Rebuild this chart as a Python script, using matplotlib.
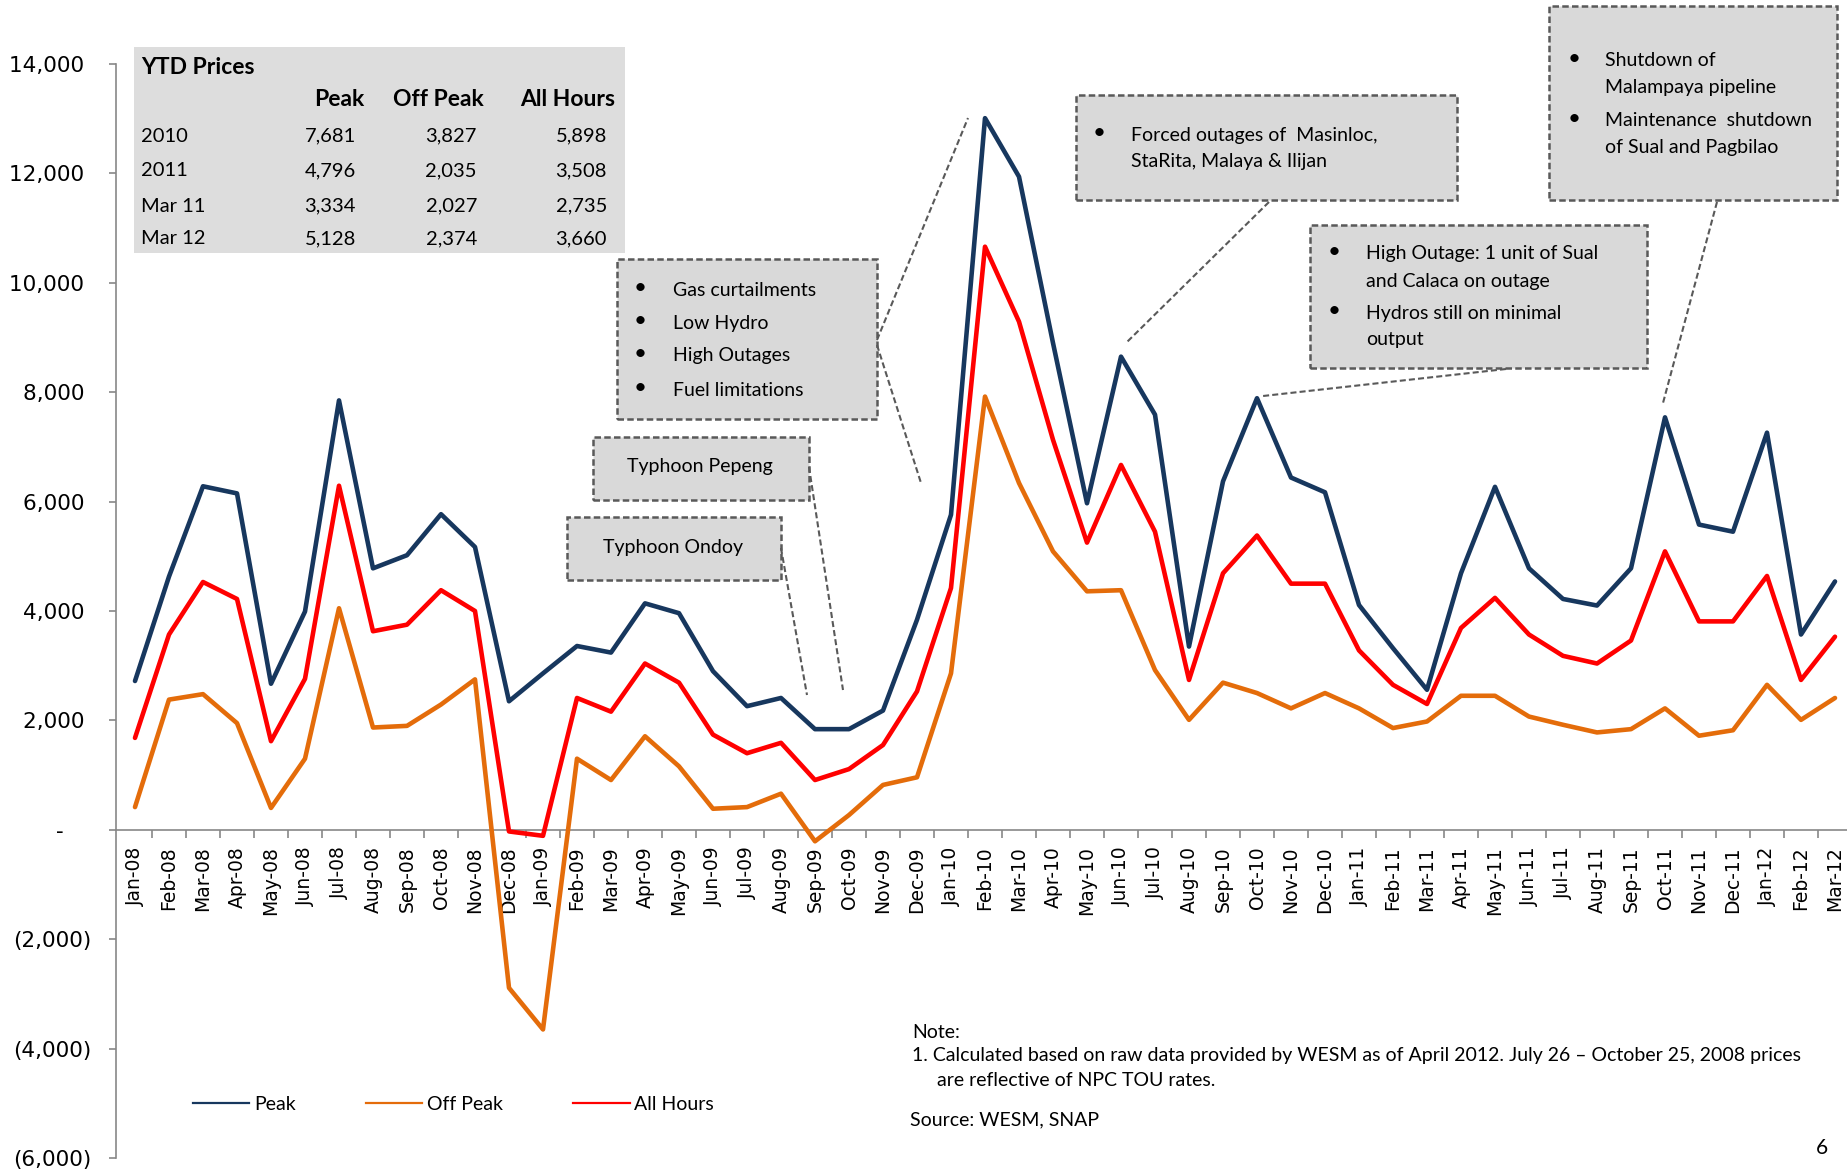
import matplotlib
matplotlib.use("Agg")
import matplotlib.pyplot as plt
from matplotlib.lines import Line2D
from matplotlib.patches import Rectangle
from matplotlib.ticker import FuncFormatter, FixedLocator

# ---------------- data ----------------
months = ['Jan-08', 'Feb-08', 'Mar-08', 'Apr-08', 'May-08', 'Jun-08', 'Jul-08', 'Aug-08',
          'Sep-08', 'Oct-08', 'Nov-08', 'Dec-08',
          'Jan-09', 'Feb-09', 'Mar-09', 'Apr-09', 'May-09', 'Jun-09', 'Jul-09', 'Aug-09',
          'Sep-09', 'Oct-09', 'Nov-09', 'Dec-09',
          'Jan-10', 'Feb-10', 'Mar-10', 'Apr-10', 'May-10', 'Jun-10', 'Jul-10', 'Aug-10',
          'Sep-10', 'Oct-10', 'Nov-10', 'Dec-10',
          'Jan-11', 'Feb-11', 'Mar-11', 'Apr-11', 'May-11', 'Jun-11', 'Jul-11', 'Aug-11',
          'Sep-11', 'Oct-11', 'Nov-11', 'Dec-11',
          'Jan-12', 'Feb-12', 'Mar-12']

peak = [2720, 4630, 6280, 6150, 2670, 3990, 7850, 4780, 5020, 5770, 5170, 2350,
        2860, 3360, 3240, 4140, 3960, 2900, 2260, 2410, 1840, 1840, 2180, 3840,
        5760, 13010, 11940, 8900, 5970, 8650, 7590, 3350, 6370, 7890, 6440, 6170,
        4110, 3320, 2560, 4690, 6270, 4780, 4220, 4100, 4780, 7540, 5580, 5450,
        7260, 3570, 4540]

off_peak = [415, 2380, 2480, 1950, 400, 1300, 4050, 1870, 1900, 2290, 2750, -2890,
            -3650, 1300, 910, 1710, 1160, 385, 415, 660, -210, 270, 820, 960,
            2860, 7920, 6340, 5090, 4360, 4380, 2920, 2010, 2690, 2500, 2220, 2500,
            2220, 1860, 1980, 2450, 2450, 2070, 1920, 1780, 1840, 2220, 1720, 1820,
            2650, 2010, 2410]

all_hours = [1680, 3570, 4530, 4220, 1620, 2760, 6290, 3630, 3750, 4380, 4000, -30,
             -110, 2410, 2160, 3040, 2690, 1740, 1400, 1590, 910, 1110, 1550, 2530,
             4420, 10660, 9290, 7130, 5250, 6670, 5450, 2740, 4690, 5380, 4500, 4500,
             3280, 2650, 2300, 3690, 4240, 3570, 3180, 3040, 3460, 5090, 3810, 3810,
             4640, 2740, 3530]

series_names = ['Peak', 'Off Peak', 'All Hours']
series_colors = ['#17375E', '#E46C0A', '#FF0000']

ytd_cols = ['Peak', 'Off Peak', 'All Hours']
ytd_rows = ['2010', '2011', 'Mar 11', 'Mar 12']
ytd_peak = ['7,681', '4,796', '3,334', '5,128']
ytd_off = ['3,827', '2,035', '2,027', '2,374']
ytd_all = ['5,898', '3,508', '2,735', '3,660']

y_ticks = [-6000, -4000, -2000, 0, 2000, 4000, 6000, 8000, 10000, 12000, 14000]

# ---------------- figure ----------------
W, H = 1847, 1171
fig = plt.figure(figsize=(W / 100, H / 100), dpi=100)
fig.patch.set_facecolor('white')

TXT = ['Lato', 'DejaVu Sans']
AX = ['DejaVu Sans']


def fx(x):
    return x / W


def fy(y):
    return 1 - y / H


def T(x, y, s, **kw):
    kw.setdefault('family', TXT)
    kw.setdefault('va', 'center')
    return fig.text(fx(x), fy(y), s, **kw)


# axes: x=-0.55 at px 116.3, 34 px per category; y 14000 at px 64, -6000 at px 1158
x0 = -0.55
x1 = 50.5
left = 135 + x0 * 34
width = (x1 - x0) * 34
ax = fig.add_axes([left / W, (H - 1158) / H, width / W, (1158 - 64) / H])
ax.set_xlim(x0, x1)
ax.set_ylim(-6000, 14000)
ax.set_facecolor('none')

xs = list(range(len(months)))
for vals, name, col in zip([peak, off_peak, all_hours], series_names, series_colors):
    ax.plot(xs, vals, color=col, lw=3.3, label=name, solid_joinstyle='round',
            solid_capstyle='round', zorder=3)

for sp in ['top', 'right']:
    ax.spines[sp].set_visible(False)
ax.spines['left'].set_color('#878787')
ax.spines['left'].set_linewidth(1.2)
ax.spines['bottom'].set_position(('data', 0))
ax.spines['bottom'].set_color('#878787')
ax.spines['bottom'].set_linewidth(1.2)

ax.yaxis.set_major_locator(FixedLocator(y_ticks))


def yfmt(v, pos):
    v = int(round(v))
    if v == 0:
        return '-    '
    if v < 0:
        return '({:,})'.format(-v)
    return '{:,} '.format(v)


ax.yaxis.set_major_formatter(FuncFormatter(yfmt))
ax.tick_params(axis='y', direction='out', length=5, width=1.2, color='#878787',
               pad=13, labelsize=15.5, labelcolor='#000000')
for lab in ax.get_yticklabels():
    lab.set_family(AX)

ax.set_xticks(xs)
ax.set_xticklabels(months, rotation=90, family=AX, fontsize=13.5)
ax.set_xticks([i + 0.5 for i in range(len(months) - 1)], minor=True)
ax.tick_params(axis='x', which='major', length=0, pad=12)
ax.tick_params(axis='x', which='minor', direction='out', length=6, width=1.2,
               color='#878787')

# legend
handles = [Line2D([], [], color=c, lw=1.6) for c in series_colors]
fig.legend(handles, series_names, loc='center left',
           bbox_to_anchor=(fx(193), fy(1104)), bbox_transform=fig.transFigure,
           ncol=3, frameon=False, borderpad=0, borderaxespad=0,
           handlelength=2.9, handletextpad=0.25, columnspacing=3.6,
           prop={'family': TXT, 'size': 14})

# ---------------- YTD table ----------------
fig.add_artist(Rectangle((fx(134), fy(253)), (625 - 134) / W, (253 - 47) / H,
                         transform=fig.transFigure, facecolor='#DDDDDD',
                         edgecolor='none', zorder=1))
T(141, 68, 'YTD Prices', fontsize=16.5, fontweight='bold', ha='left')
col_hdr_x = [364, 484, 615]
for hx, h in zip(col_hdr_x, ytd_cols):
    T(hx, 100, h, fontsize=16.5, fontweight='bold', ha='right')
row_y = [136, 171, 206, 239]
val_x = [356, 477, 607]
for ry, rname, a, b, c in zip(row_y, ytd_rows, ytd_peak, ytd_off, ytd_all):
    T(141, ry, rname, fontsize=14.5, ha='left')
    for vx, v in zip(val_x, [a, b, c]):
        T(vx, ry, v, fontsize=14.5, ha='right')

# ---------------- annotation boxes ----------------
BOX_FC = '#D9D9D9'
EDGE = '#595959'


def dbox(xa, ya, xb, yb):
    fig.add_artist(Rectangle((fx(xa), fy(yb)), (xb - xa) / W, (yb - ya) / H,
                             transform=fig.transFigure, facecolor=BOX_FC,
                             edgecolor=EDGE, lw=1.8, linestyle=(0, (2.6, 1.3)),
                             zorder=2))


def leader(xa, ya, xb, yb):
    fig.add_artist(Line2D([fx(xa), fx(xb)], [fy(ya), fy(yb)],
                          transform=fig.transFigure, color=EDGE, lw=1.5,
                          linestyle=(0, (2.9, 1.5)), zorder=2))


def bullets(xb, xt, ys, lines, size=14):
    for y, s in zip(ys, lines):
        if s[0]:
            T(xb, y - 2, '\u2022', fontsize=size + 2, ha='center', zorder=3)
        T(xt, y, s[1], fontsize=size, ha='left', zorder=3)


# Gas curtailments box
dbox(617, 259, 877, 419)
bullets(640, 673, [290, 323, 356, 390],
        [(1, 'Gas curtailments'), (1, 'Low Hydro'), (1, 'High Outages'),
         (1, 'Fuel limitations')])
leader(877, 340, 968, 118)
leader(877, 345, 921, 483)

# Typhoon boxes
dbox(593, 437, 809, 500)
T(700, 467, 'Typhoon Pepeng', fontsize=14, ha='center', zorder=3)
leader(809, 467, 843, 690)
dbox(567, 517, 781, 580)
T(673, 547, 'Typhoon Ondoy', fontsize=14, ha='center', zorder=3)
leader(781, 548, 807, 695)

# Forced outages box
dbox(1076, 95, 1457, 200)
bullets(1099, 1131, [135, 162],
        [(1, 'Forced outages of  Masinloc,'), (0, 'StaRita, Malaya & Ilijan')])
leader(1269, 202, 1127, 342)

# High outage box
dbox(1310, 225, 1647, 368)
bullets(1334, 1366, [254, 281, 313, 339],
        [(1, 'High Outage: 1 unit of Sual'), (0, 'and Calaca on outage'),
         (1, 'Hydros still on minimal'), (0, 'output')])
leader(1506, 369, 1263, 396)

# Shutdown box
dbox(1549, 6, 1837, 200)
bullets(1574, 1605, [61, 87, 121, 147],
        [(1, 'Shutdown of'), (0, 'Malampaya pipeline'),
         (1, 'Maintenance  shutdown'), (0, 'of Sual and Pagbilao')])
leader(1717, 202, 1663, 403)

# ---------------- notes ----------------
T(912, 1032, 'Note:', fontsize=14, ha='left')
T(912, 1056, '1. Calculated based on raw data provided by WESM as of April 2012. '
             'July 26 \u2013 October 25, 2008 prices', fontsize=14, ha='left')
T(937, 1081, 'are reflective of NPC TOU rates.', fontsize=14, ha='left')
T(910, 1120, 'Source: WESM, SNAP', fontsize=14, ha='left')
T(1822, 1148, '6', fontsize=15, ha='center')

fig.savefig('out.png', dpi=100, facecolor='white')
